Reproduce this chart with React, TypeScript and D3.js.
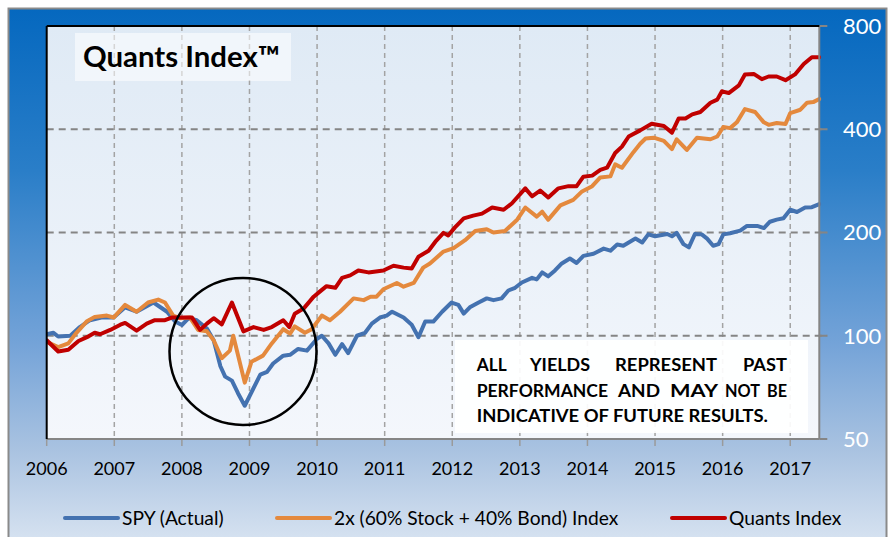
import React from "react";
import * as d3 from "d3";

// ---------- data ----------
const yearTicks = [2006, 2007, 2008, 2009, 2010, 2011, 2012, 2013, 2014, 2015, 2016, 2017];
const valueTicks = [50, 100, 200, 400, 800];

const spyData: [number, number][] = [
  [2006.0, 101], [2006.1, 102], [2006.17, 99.5], [2006.35, 100], [2006.49, 106], [2006.64, 111],
  [2006.81, 113], [2006.99, 113], [2007.16, 121], [2007.33, 117.5], [2007.58, 125], [2007.78, 117.5],
  [2007.9, 110], [2008.0, 107.5], [2008.1, 112.5], [2008.22, 111], [2008.37, 105], [2008.47, 97],
  [2008.57, 81.5], [2008.64, 76], [2008.74, 74], [2008.83, 68], [2008.93, 62.5], [2009.16, 77],
  [2009.26, 78.5], [2009.35, 83], [2009.5, 87.5], [2009.6, 88], [2009.72, 91.5], [2009.85, 90.5],
  [2010.0, 98], [2010.07, 100], [2010.17, 95], [2010.27, 88], [2010.37, 94.5], [2010.46, 89],
  [2010.59, 100], [2010.71, 102], [2010.81, 108.5], [2010.93, 113], [2011.03, 114.5], [2011.11, 117.5],
  [2011.28, 113], [2011.4, 107.7], [2011.5, 99], [2011.6, 110], [2011.72, 110], [2011.85, 117.5],
  [2011.99, 125], [2012.09, 123], [2012.17, 116], [2012.26, 121], [2012.39, 125], [2012.51, 128.5],
  [2012.61, 127], [2012.73, 128.5], [2012.83, 135.5], [2012.93, 138], [2013.03, 143], [2013.18, 147.5],
  [2013.25, 146], [2013.33, 153], [2013.42, 149], [2013.52, 155], [2013.62, 162.5], [2013.74, 168],
  [2013.84, 163], [2013.94, 171], [2014.09, 173.5], [2014.24, 179.5], [2014.34, 177], [2014.44, 184.5],
  [2014.53, 183], [2014.71, 192], [2014.81, 187], [2014.9, 197.5], [2015.0, 195], [2015.18, 198],
  [2015.25, 195], [2015.32, 199.5], [2015.42, 185], [2015.5, 181], [2015.59, 198], [2015.69, 197.5],
  [2015.77, 192], [2015.86, 183], [2015.94, 185], [2016.01, 197.5], [2016.11, 199], [2016.26, 202.5],
  [2016.36, 209], [2016.51, 209], [2016.61, 206], [2016.7, 215], [2016.8, 218], [2016.9, 220],
  [2017.0, 233], [2017.1, 229.5], [2017.22, 236.5], [2017.32, 237], [2017.43, 242],
];

const balancedData: [number, number][] = [
  [2006.0, 96], [2006.17, 92.7], [2006.32, 95], [2006.44, 102], [2006.59, 110], [2006.71, 113.5],
  [2006.89, 114.5], [2006.99, 113], [2007.16, 123], [2007.33, 117.5], [2007.5, 125], [2007.65, 127.5],
  [2007.75, 125], [2007.87, 114.5], [2007.97, 112.5], [2008.12, 113], [2008.24, 104], [2008.37, 103],
  [2008.47, 97], [2008.59, 86], [2008.71, 90.5], [2008.76, 100], [2008.93, 73], [2009.03, 84],
  [2009.2, 87.5], [2009.33, 95], [2009.5, 104.5], [2009.6, 101.5], [2009.67, 106.5], [2009.82, 102],
  [2009.92, 104.5], [2010.07, 114.5], [2010.19, 111], [2010.34, 117.5], [2010.54, 128.5], [2010.69, 127],
  [2010.79, 130], [2010.88, 130], [2010.98, 136.6], [2011.18, 142.5], [2011.28, 139], [2011.43, 142.5],
  [2011.57, 158], [2011.67, 162.5], [2011.87, 176], [2012.02, 180], [2012.19, 190], [2012.34, 202],
  [2012.51, 204.5], [2012.61, 200], [2012.78, 202], [2012.96, 218], [2013.08, 236.5], [2013.25, 222.5],
  [2013.33, 230], [2013.42, 218], [2013.6, 240], [2013.79, 249], [2013.92, 263.5], [2014.07, 273],
  [2014.19, 289.5], [2014.34, 291.5], [2014.41, 316], [2014.51, 309], [2014.68, 343], [2014.78, 363],
  [2014.86, 376], [2014.98, 378], [2015.13, 370], [2015.25, 350], [2015.32, 374], [2015.47, 348],
  [2015.62, 378], [2015.82, 374], [2015.92, 381], [2016.01, 406], [2016.11, 403], [2016.21, 419],
  [2016.33, 458], [2016.48, 449], [2016.61, 419], [2016.68, 412], [2016.8, 417], [2016.93, 414.5],
  [2017.0, 446], [2017.15, 456], [2017.25, 478], [2017.34, 480], [2017.43, 490],
];

const quantsData: [number, number][] = [
  [2006.0, 97], [2006.17, 90], [2006.32, 91], [2006.47, 96.5], [2006.62, 99.6], [2006.71, 102],
  [2006.79, 101], [2006.94, 104], [2007.09, 107.7], [2007.16, 109], [2007.33, 103.5], [2007.48, 108.5],
  [2007.6, 111], [2007.75, 111], [2007.85, 113], [2007.97, 113], [2008.15, 113], [2008.27, 104],
  [2008.37, 108.5], [2008.47, 112.5], [2008.59, 108], [2008.74, 125], [2008.91, 103], [2009.06, 106],
  [2009.21, 104], [2009.33, 106], [2009.5, 111], [2009.59, 106], [2009.67, 116], [2009.8, 120],
  [2009.95, 130], [2010.04, 134.5], [2010.14, 139.5], [2010.27, 138], [2010.37, 147.5], [2010.49, 150],
  [2010.61, 155], [2010.76, 153], [2010.98, 155], [2011.13, 160], [2011.28, 158], [2011.4, 157],
  [2011.5, 170], [2011.65, 177], [2011.75, 188], [2011.87, 199.5], [2011.94, 196], [2012.04, 207],
  [2012.17, 220], [2012.31, 224], [2012.44, 227], [2012.59, 236.5], [2012.76, 233], [2012.88, 243],
  [2013.08, 269], [2013.18, 255], [2013.3, 265], [2013.42, 253], [2013.57, 269], [2013.72, 273],
  [2013.84, 273], [2013.94, 291], [2014.07, 293], [2014.19, 304.5], [2014.29, 309], [2014.41, 341],
  [2014.51, 356], [2014.61, 381], [2014.78, 397], [2014.95, 415], [2015.13, 409], [2015.25, 391],
  [2015.35, 430], [2015.45, 430], [2015.55, 442], [2015.67, 449], [2015.82, 478], [2015.92, 488],
  [2015.99, 516], [2016.09, 510], [2016.24, 537], [2016.33, 578], [2016.46, 580], [2016.58, 560],
  [2016.68, 570], [2016.8, 570], [2016.93, 556], [2017.07, 578], [2017.2, 620], [2017.32, 649],
  [2017.43, 649],
];

const seriesLabels = ["SPY (Actual)", "2x (60% Stock + 40% Bond) Index", "Quants Index"];
const seriesColors = ["#4472b0", "#e4893d", "#c00000"];
const seriesData = [spyData, balancedData, quantsData];

const titleText = "Quants Index™";
const disclaimerLines = [
  ["ALL", "YIELDS", "REPRESENT", "PAST"],
  ["PERFORMANCE", "AND", "MAY", "NOT", "BE"],
  ["INDICATIVE OF FUTURE RESULTS."],
];

// ---------- layout ----------
const W = 894;
const H = 537;
const plot = { left: 46.7, right: 819.3, top: 26, bottom: 439 };
const FONT = "Lato, 'Open Sans', sans-serif";

export default function App() {
  const x = d3.scaleLinear().domain([2006, 2017.43]).range([plot.left, plot.right]);
  const y = d3.scaleLog().domain([50, 800]).range([plot.bottom, plot.top]);
  const line = d3
    .line<[number, number]>()
    .x((d) => x(d[0]))
    .y((d) => y(d[1]))
    .curve(d3.curveLinear);

  // word boxes [start, end] for the justified disclaimer
  const wordSpans: [number, number][][] = [
    [[476.7, 506.7], [530, 590], [615, 717], [743, 787]],
    [[476.7, 608], [618, 660], [670, 718], [725, 760], [767, 787]],
    [[476.7, 768]],
  ];
  const legendX = [65, 277, 672];

  return (
    <svg
      width={W}
      height={H}
      style={{ position: "absolute", left: 0, top: 0, display: "block" }}
      fontFamily={FONT}
    >
      <defs>
        <linearGradient id="outerBg" x1="0" y1="0" x2="0" y2="1">
          <stop offset="0" stopColor="#0568bf" />
          <stop offset="0.3" stopColor="#2a7ec8" />
          <stop offset="0.62" stopColor="#74a3d8" />
          <stop offset="0.82" stopColor="#aac3e1" />
          <stop offset="1" stopColor="#dae5f2" />
        </linearGradient>
        <linearGradient id="plotBg" x1="0" y1="0" x2="0" y2="1">
          <stop offset="0" stopColor="#dfeaf5" />
          <stop offset="1" stopColor="#f4f7fc" />
        </linearGradient>
        <clipPath id="plotClip">
          <rect x={plot.left} y={plot.top - 4} width={plot.right - plot.left + 2} height={plot.bottom - plot.top + 8} />
        </clipPath>
      </defs>

      <rect x={0} y={0} width={W} height={H} fill="#ffffff" />
      <rect x={8.5} y={8.5} width={878} height={540} fill="url(#outerBg)" stroke="#8a8a8a" strokeWidth={2} />

      {/* plot area */}
      <rect x={plot.left} y={plot.top} width={plot.right - plot.left} height={plot.bottom - plot.top} fill="url(#plotBg)" />

      {/* vertical grid */}
      {yearTicks.slice(1).map((yr) => (
        <line key={"vg" + yr} x1={x(yr)} x2={x(yr)} y1={plot.top} y2={plot.bottom}
          stroke="#a3a3a3" strokeWidth={1.5} strokeDasharray="5 4" />
      ))}
      {/* horizontal grid */}
      {valueTicks.slice(1, -1).map((v) => (
        <line key={"hg" + v} x1={plot.left} x2={plot.right + 8} y1={y(v)} y2={y(v)}
          stroke="#858585" strokeWidth={2} strokeDasharray="7 5" />
      ))}
      {/* right ticks */}
      {valueTicks.map((v) => (
        <line key={"rt" + v} x1={plot.right} x2={plot.right + 8} y1={y(v)} y2={y(v)} stroke="#858585" strokeWidth={2} />
      ))}
      {/* bottom ticks */}
      {yearTicks.map((yr) => (
        <line key={"bt" + yr} x1={x(yr)} x2={x(yr)} y1={plot.bottom} y2={plot.bottom + 7} stroke="#9a9a9a" strokeWidth={1.5} />
      ))}

      {/* title box */}
      <rect x={75} y={33} width={216} height={48} fill="#ffffff" fillOpacity={0.55} />
      <text x={83} y={66.5} fontSize={29} fontWeight={700} fill="#000" textLength={197} lengthAdjust="spacingAndGlyphs">{titleText}</text>

      {/* disclaimer box */}
      <rect x={455} y={340} width={353} height={93} fill="#ffffff" fillOpacity={0.92} />
      {disclaimerLines.map((words, li) => (
        <g key={"dl" + li}>
          {words.map((w, wi) => {
            const [s, e] = wordSpans[li][wi];
            return (
              <text
                key={w}
                x={s}
                y={371 + li * 25.5}
                fontSize={16.5}
                fontWeight={700}
                fill="#000"
                textLength={e - s}
                lengthAdjust="spacingAndGlyphs"
              >
                {w}
              </text>
            );
          })}
        </g>
      ))}

      {/* series */}
      <g clipPath="url(#plotClip)">
        {seriesData.map((d, i) => (
          <path key={"s" + i} d={line(d) || ""} fill="none" stroke={seriesColors[i]} strokeWidth={4}
            strokeLinejoin="round" strokeLinecap="round" />
        ))}
      </g>

      {/* circle */}
      <circle cx={243} cy={351.5} r={73.5} fill="none" stroke="#000" strokeWidth={2.5} />

      {/* plot borders */}
      <line x1={plot.right} x2={plot.right} y1={plot.top} y2={plot.bottom} stroke="#858585" strokeWidth={2} />
      <line x1={plot.left} x2={plot.right} y1={plot.bottom} y2={plot.bottom} stroke="#858585" strokeWidth={2} />
      <line x1={plot.left} x2={plot.right} y1={plot.top} y2={plot.top} stroke="#000" strokeWidth={2} />
      <line x1={plot.left} x2={plot.left} y1={plot.top} y2={plot.bottom} stroke="#000" strokeWidth={2} />

      {/* right axis labels */}
      {valueTicks.map((v) => (
        <text key={"rl" + v} x={843} y={y(v)} dy="0.36em" fontSize={22} fill="#ffffff">{v}</text>
      ))}
      {/* bottom axis labels */}
      {yearTicks.map((yr) => (
        <text key={"bl" + yr} x={x(yr)} y={475} fontSize={18} textAnchor="middle" fill="#000">{yr}</text>
      ))}

      {/* legend */}
      {seriesLabels.map((label, i) => (
        <g key={"lg" + i}>
          <line x1={legendX[i]} x2={legendX[i] + 53} y1={518} y2={518} stroke={seriesColors[i]} strokeWidth={4} strokeLinecap="round" />
          <text x={legendX[i] + 57} y={524.5} fontSize={19.2} fill="#000">{label}</text>
        </g>
      ))}
    </svg>
  );
}
